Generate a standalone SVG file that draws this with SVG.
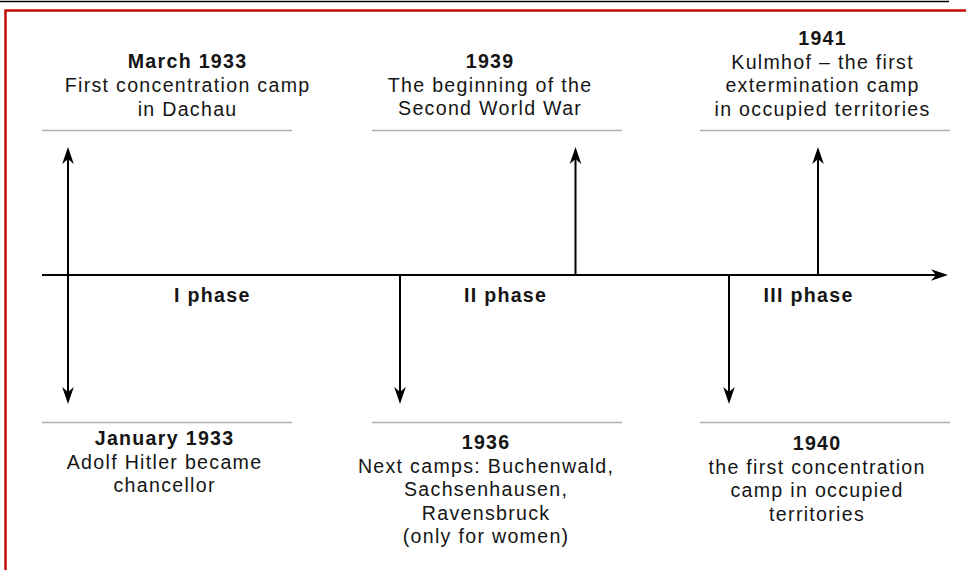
<svg xmlns="http://www.w3.org/2000/svg" width="966" height="570" viewBox="0 0 966 570">
  <style>
    .t { font-family: "Liberation Sans", Arial, sans-serif; font-size: 19.6px; letter-spacing: 1.3px; fill: #151515; text-anchor: middle; }
    .b { font-weight: bold; }
    .sep { stroke: #b0b0b0; stroke-width: 1.5; fill: none; }
    .arr { stroke: #000; stroke-width: 2; fill: none; }
  </style>
  <defs>
    <marker id="ah" markerUnits="userSpaceOnUse" markerWidth="20" markerHeight="14" viewBox="-18 -7 20 14" refX="-10" refY="0" orient="auto-start-reverse">
      <path d="M0,0 L-17,-5.8 L-12,0 L-17,5.8 Z" fill="#000"/>
    </marker>
  </defs>
  <rect width="966" height="570" fill="#fff"/>
  <g id="frame">
    <line x1="0" y1="1.5" x2="949" y2="1.5" stroke="#000" stroke-width="1.5"/>
    <path d="M5.5,570 V10.5 H966" fill="none" stroke="#c40c0c" stroke-width="2.5"/>
  </g>
  <g id="connectors">
    <line id="axis" class="arr" x1="42" y1="275" x2="938" y2="275" marker-end="url(#ah)"/>
    <line id="c-1933" class="arr" x1="68" y1="157" x2="68" y2="394" marker-start="url(#ah)" marker-end="url(#ah)"/>
    <line id="c-1936" class="arr" x1="400" y1="275" x2="400" y2="394" marker-end="url(#ah)"/>
    <line id="c-1939" class="arr" x1="575.5" y1="275" x2="575.5" y2="157" marker-end="url(#ah)"/>
    <line id="c-1940" class="arr" x1="729" y1="275" x2="729" y2="394" marker-end="url(#ah)"/>
    <line id="c-1941" class="arr" x1="818" y1="275" x2="818" y2="157" marker-end="url(#ah)"/>
  </g>
  <g id="event-mar1933">
    <line class="sep" x1="42" y1="130.5" x2="292" y2="130.5"/>
    <text class="t b" x="187.6" y="68">March 1933</text>
    <text class="t" x="187.6" y="92">First concentration camp</text>
    <text class="t" x="187.6" y="115.5">in Dachau</text>
  </g>
  <g id="event-1939">
    <line class="sep" x1="372" y1="130.5" x2="622" y2="130.5"/>
    <text class="t b" x="490.1" y="67.5">1939</text>
    <text class="t" x="490.1" y="91.5">The beginning of the</text>
    <text class="t" x="490.1" y="115">Second World War</text>
  </g>
  <g id="event-1941">
    <line class="sep" x1="700" y1="130.5" x2="950" y2="130.5"/>
    <text class="t b" x="822.6" y="45">1941</text>
    <text class="t" x="822.6" y="68.5">Kulmhof – the first</text>
    <text class="t" x="822.6" y="92">extermination camp</text>
    <text class="t" x="822.6" y="115.5">in occupied territories</text>
  </g>
  <g id="phase-1"><text class="t b" x="212.3" y="302">I phase</text></g>
  <g id="phase-2"><text class="t b" x="505.6" y="302">II phase</text></g>
  <g id="phase-3"><text class="t b" x="808.6" y="302">III phase</text></g>
  <g id="event-jan1933">
    <line class="sep" x1="42" y1="422.5" x2="292" y2="422.5"/>
    <text class="t b" x="164.6" y="445">January 1933</text>
    <text class="t" x="164.6" y="468.5">Adolf Hitler became</text>
    <text class="t" x="164.6" y="492">chancellor</text>
  </g>
  <g id="event-1936">
    <line class="sep" x1="372" y1="422.5" x2="622" y2="422.5"/>
    <text class="t b" x="486.1" y="449">1936</text>
    <text class="t" x="486.1" y="472.5">Next camps: Buchenwald,</text>
    <text class="t" x="486.1" y="496">Sachsenhausen,</text>
    <text class="t" x="486.1" y="519.5">Ravensbruck</text>
    <text class="t" x="486.1" y="543">(only for women)</text>
  </g>
  <g id="event-1940">
    <line class="sep" x1="700" y1="422.5" x2="950" y2="422.5"/>
    <text class="t b" x="817.1" y="450">1940</text>
    <text class="t" x="817.1" y="473.5">the first concentration</text>
    <text class="t" x="817.1" y="497">camp in occupied</text>
    <text class="t" x="817.1" y="520.5">territories</text>
  </g>
</svg>
